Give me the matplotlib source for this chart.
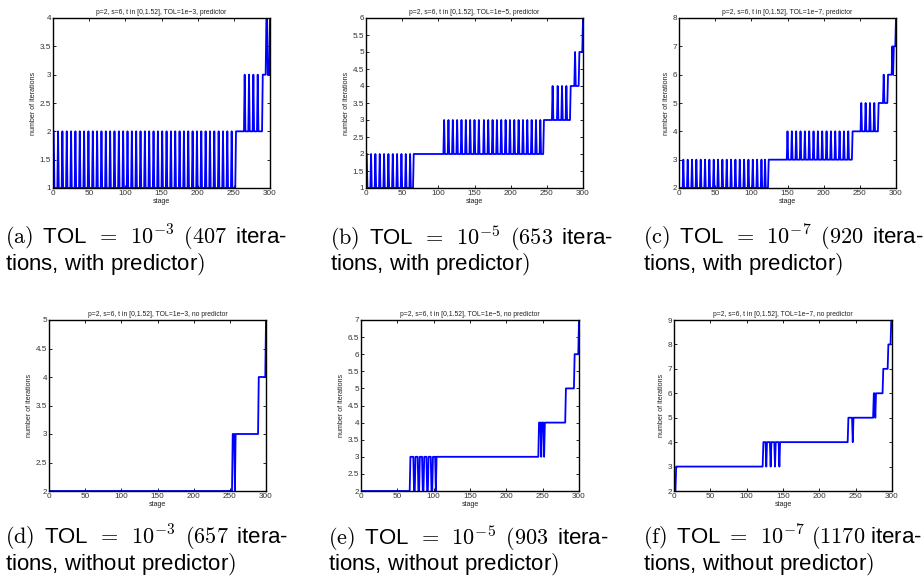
import numpy as np
import matplotlib
matplotlib.use("Agg")
import matplotlib.pyplot as plt

plt.rcParams['mathtext.fontset'] = 'cm'
plt.rcParams['font.family'] = ['Liberation Sans', 'DejaVu Sans']

N_STAGES = 300
x_ticks = [0, 50, 100, 150, 200, 250, 300]

# ---- (a) TOL=1e-3, predictor ----
a_seg_start = [1, 253, 290, 300]
a_seg_val = [1, 2, 3, 4]
a_spikes = {
    2: [1, 7, 13, 19, 25, 31, 37, 43, 49, 55, 61, 67, 73, 79, 85, 91, 97, 103, 109,
        115, 121, 127, 133, 139, 145, 151, 157, 163, 169, 175, 181, 187, 193, 199,
        205, 211, 217, 223, 229, 235, 241, 247],
    3: [265, 271, 277, 283],
    4: [295, 296],
}
a_ylim = (1, 4)
a_yticks = [1, 1.5, 2, 2.5, 3, 3.5, 4]

# ---- (b) TOL=1e-5, predictor ----
b_seg_start = [1, 66, 246, 283, 295, 300]
b_seg_val = [1, 2, 3, 4, 5, 6]
b_spikes = {
    2: [1, 7, 13, 19, 25, 31, 37, 43, 49, 55, 61],
    3: [108, 114, 120, 126, 132, 138, 144, 150, 156, 163, 169, 175, 181, 187, 193,
        199, 205, 211, 217, 223, 229, 235, 241],
    4: [258, 265, 271, 277],
    5: [289],
}
b_ylim = (1, 6)
b_yticks = [1, 1.5, 2, 2.5, 3, 3.5, 4, 4.5, 5, 5.5, 6]

# ---- (c) TOL=1e-7, predictor ----
c_seg_start = [1, 124, 240, 276, 289, 297, 300]
c_seg_val = [2, 3, 4, 5, 6, 7, 8]
c_spikes = {
    3: [6, 12, 18, 24, 30, 36, 42, 48, 54, 60, 66, 72, 78, 84, 90, 96, 102, 108,
        114, 119],
    4: [150, 156, 162, 168, 174, 180, 186, 192, 198, 204, 210, 216, 222, 228, 234],
    5: [252, 258, 264, 270],
    6: [283],
    7: [295],
}
c_ylim = (2, 8)
c_yticks = [2, 3, 4, 5, 6, 7, 8]

# ---- (d) TOL=1e-3, no predictor ----
d_seg_start = [1, 254, 257, 258, 290, 300]
d_seg_val = [2, 3, 2, 3, 4, 5]
d_spikes = {}
d_ylim = (2, 5)
d_yticks = [2, 2.5, 3, 3.5, 4, 4.5, 5]

# ---- (e) TOL=1e-5, no predictor ----
e_seg_start = [1, 68, 245, 282, 294, 300]
e_seg_val = [2, 3, 4, 5, 6, 7]
e_spikes = {
    2: [73, 74, 79, 80, 85, 86, 91, 92, 97, 98, 103],
    3: [248, 252],
}
e_ylim = (2, 7)
e_yticks = [2, 2.5, 3, 3.5, 4, 4.5, 5, 5.5, 6, 6.5, 7]

# ---- (f) TOL=1e-7, no predictor ----
f_seg_start = [1, 3, 123, 240, 275, 288, 295, 299]
f_seg_val = [2, 3, 4, 5, 6, 7, 8, 9]
f_spikes = {
    3: [127, 133, 139, 145],
    4: [246],
    5: [277],
}
f_ylim = (2, 9)
f_yticks = [2, 3, 4, 5, 6, 7, 8, 9]

titles = [
    "p=2, s=6, t in [0,1.52], TOL=1e\u22123, predictor",
    "p=2, s=6, t in [0,1.52], TOL=1e\u22125, predictor",
    "p=2, s=6, t in [0,1.52], TOL=1e\u22127, predictor",
    "p=2, s=6, t in [0,1.52], TOL=1e\u22123, no predictor",
    "p=2, s=6, t in [0,1.52], TOL=1e\u22125, no predictor",
    "p=2, s=6, t in [0,1.52], TOL=1e\u22127, no predictor",
]

T = r"$\,$"  # thin space used to mimic the justified caption spacing
captions = [
    r"$\mathrm{(a)}$ " + T + "TOL " + T + r"$=$ " + T + r"$10^{-3}$ " + T + r"$\mathrm{(407}$ " + T + "itera-\n"
    + r"tions, with predictor$\mathrm{)}$",
    r"$\mathrm{(b)}$ " + T + "TOL " + T + r"$=$ " + T + r"$10^{-5}$ " + T + r"$\mathrm{(653}$ " + T + "itera-\n"
    + r"tions, with predictor$\mathrm{)}$",
    r"$\mathrm{(c)}$ " + T + "TOL " + T + r"$=$ " + T + r"$10^{-7}$ " + T + r"$\mathrm{(920}$ " + T + "itera-\n"
    + r"tions, with predictor$\mathrm{)}$",
    r"$\mathrm{(d)}$ " + T + "TOL " + T + r"$=$ " + T + r"$10^{-3}$ " + T + r"$\mathrm{(657}$ " + T + "itera-\n"
    + r"tions, without predictor$\mathrm{)}$",
    r"$\mathrm{(e)}$ " + T + "TOL " + T + r"$=$ " + T + r"$10^{-5}$ " + T + r"$\mathrm{(903}$ " + T + "itera-\n"
    + r"tions, without predictor$\mathrm{)}$",
    r"$\mathrm{(f)}$ " + T + "TOL " + r"$=$ " + T + r"$10^{-7}$ " + r"$\mathrm{(1170}$ " + "itera-\n"
    + r"tions, without predictor$\mathrm{)}$",
]


def build(seg_start, seg_val, spikes):
    s = np.arange(1, N_STAGES + 1)
    y = np.zeros(N_STAGES)
    for st, v in zip(seg_start, seg_val):
        y[s >= st] = v
    for v, sts in spikes.items():
        y[np.array(sts, dtype=int) - 1] = v
    return s, y


panels = [
    (a_seg_start, a_seg_val, a_spikes, a_ylim, a_yticks),
    (b_seg_start, b_seg_val, b_spikes, b_ylim, b_yticks),
    (c_seg_start, c_seg_val, c_spikes, c_ylim, c_yticks),
    (d_seg_start, d_seg_val, d_spikes, d_ylim, d_yticks),
    (e_seg_start, e_seg_val, e_spikes, e_ylim, e_yticks),
    (f_seg_start, f_seg_val, f_spikes, f_ylim, f_yticks),
]

W, H = 924, 581
fig = plt.figure(figsize=(W / 100, H / 100), dpi=100)

# axes boxes in pixels: left, top, right, bottom
boxes = [
    (53, 18, 270, 188),
    (366, 18, 583, 188),
    (679, 18, 896, 188),
    (49, 320, 266, 491),
    (361, 320, 579, 491),
    (674, 320, 892, 491),
]
# baseline of the second caption line
caption_pos = [
    (5, 270), (330, 270), (643, 270),
    (5, 570), (328, 570), (643, 570),
]

for i, (ss, sv, sp, ylim, yt) in enumerate(panels):
    l, t, r, b = boxes[i]
    ax = fig.add_axes([l / W, 1 - b / H, (r - l) / W, (b - t) / H])
    s, y = build(ss, sv, sp)
    ax.plot(s, y, color='#0000ff', lw=1.3)
    ax.set_xlim(0, 300)
    ax.set_ylim(*ylim)
    ax.set_xticks(x_ticks)
    ax.set_yticks(yt)
    ax.set_yticklabels([("%g" % v) for v in yt])
    ax.tick_params(direction='in', length=2.5, width=0.6, labelsize=5.9,
                   top=True, right=True, pad=1.5, colors='black', labelcolor='#333333')
    for sp_ in ax.spines.values():
        sp_.set_linewidth(1.0)
        sp_.set_color('black')
    ax.set_title(titles[i], fontsize=4.9, pad=3, color='#222222')
    ax.set_xlabel('stage', fontsize=5.1, labelpad=0.5, color='#222222')
    ax.set_ylabel('number of iterations', fontsize=5.1, labelpad=2, color='#222222')

    cx, cy = caption_pos[i]
    fig.text(cx / W, 1 - cy / H, captions[i], fontsize=16, va='baseline', ha='left',
             linespacing=0.93)

fig.savefig('out.png', dpi=100)
